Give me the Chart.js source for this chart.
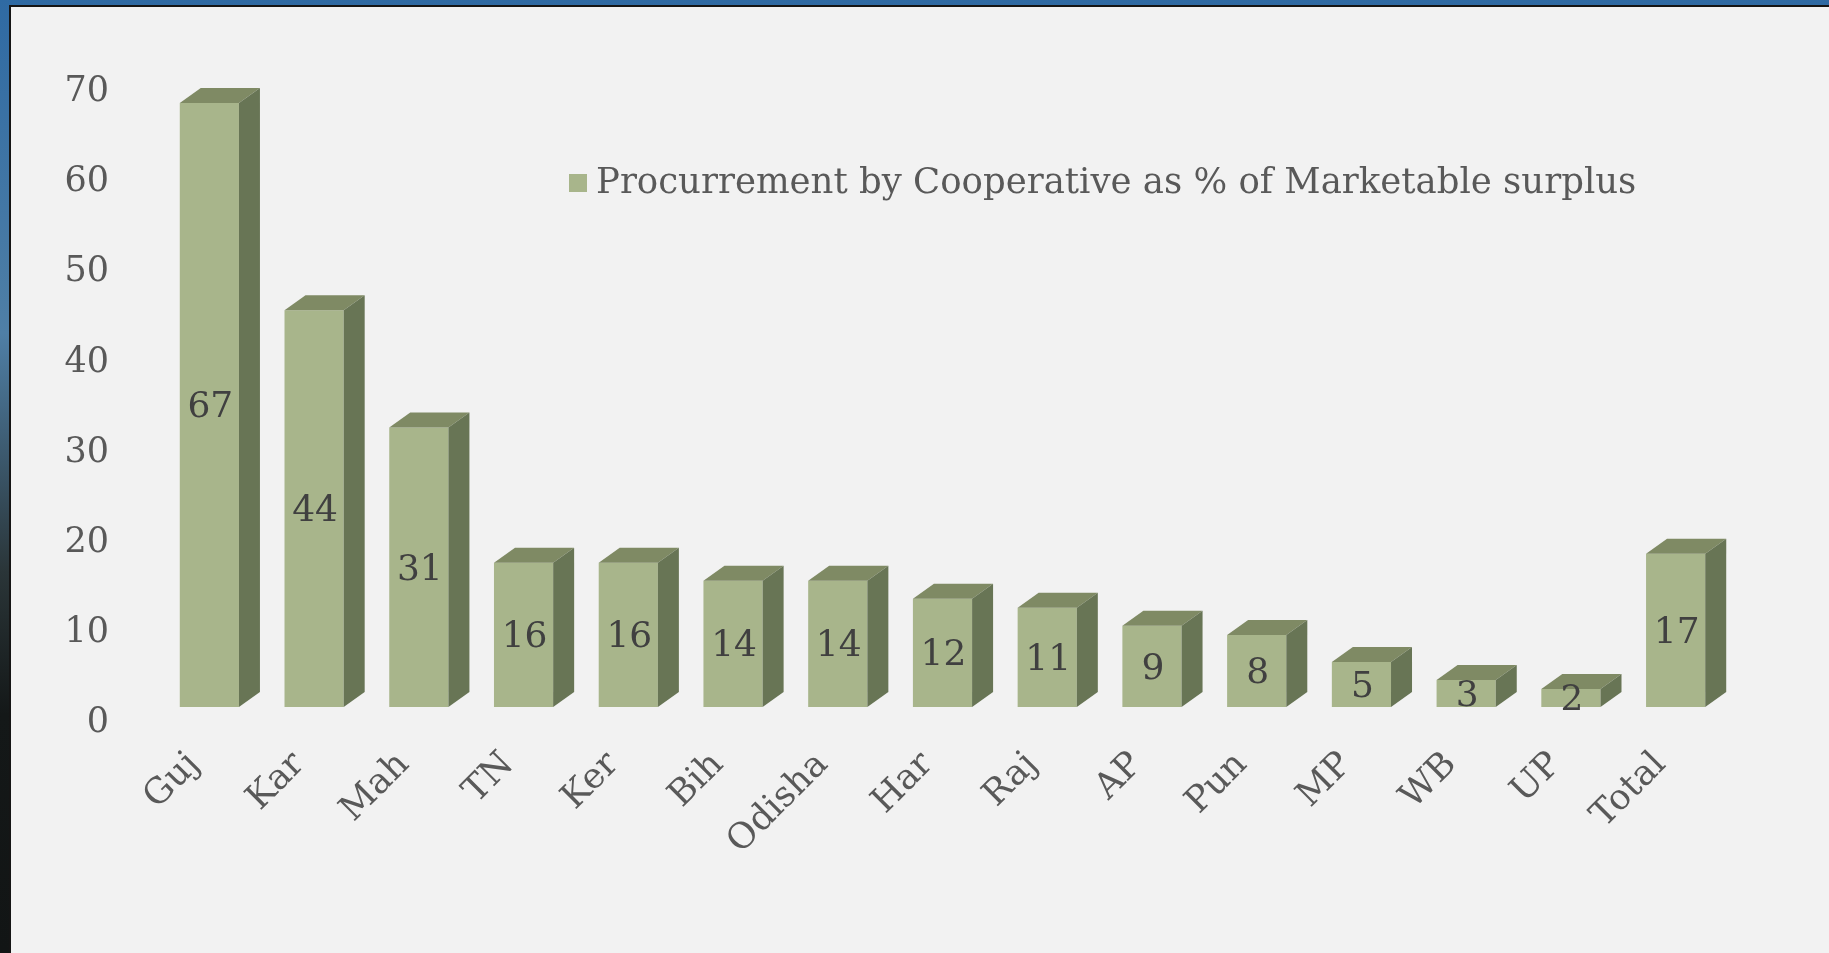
<!DOCTYPE html>
<html>
<head>
<meta charset="utf-8">
<script src="https://cdn.jsdelivr.net/npm/chart.js@4.4.1/dist/chart.umd.min.js"></script>
<style>
    html, body {
        margin: 0;
        padding: 0;
        width: 1829px;
        height: 953px;
        overflow: hidden;
        background: linear-gradient(to bottom, #2f6aa3 0%, #4f7fa6 35%, #2a3538 60%, #141818 75%, #121515 100%);
    }
    #panel {
        position: absolute;
        left: 9px;
        top: 5px;
        width: 1818px;
        height: 946px;
        background: #f2f2f2;
        border-left: 2px solid #151515;
        border-top: 2px solid #151515;
    }
    canvas { display: block; }
</style>
</head>
<body>
<div id="panel"><canvas id="chartCoop" width="1818" height="946"></canvas></div>
<script>
// Procurement by cooperatives

const states = ["Guj", "Kar", "Mah", "TN", "Ker", "Bih", "Odisha", "Har", "Raj", "AP", "Pun", "MP", "WB", "UP", "Total"];
const procurement = [67, 44, 31, 16, 16, 14, 14, 12, 11, 9, 8, 5, 3, 2, 17];
const seriesName = "Procurrement by Cooperative as % of Marketable surplus";
const yMax = 70;
const yStep = 10;

const frontColor = "#a8b58b";
const topColor = "#7f8a64";
const sideColor = "#687555";
const font = "'DejaVu Serif', serif";

// draws top + side faces so the bars look 3D, then the value labels
const bar3d = {
    id: "bar3d",
    afterDatasetsDraw: (chart) => {
        const ctx = chart.ctx;
        const meta = chart.getDatasetMeta(0);
        const dx = 21, dy = 15;
        meta.data.forEach((bar, i) => {
            const p = bar.getProps(["x", "y", "base", "width"], true);
            const x0 = p.x - p.width / 2;
            const x1 = p.x + p.width / 2;
            ctx.save();
            ctx.fillStyle = topColor;
            ctx.beginPath();
            ctx.moveTo(x0, p.y);
            ctx.lineTo(x0 + dx, p.y - dy);
            ctx.lineTo(x1 + dx, p.y - dy);
            ctx.lineTo(x1, p.y);
            ctx.closePath();
            ctx.fill();

            ctx.fillStyle = sideColor;
            ctx.beginPath();
            ctx.moveTo(x1, p.y);
            ctx.lineTo(x1 + dx, p.y - dy);
            ctx.lineTo(x1 + dx, p.base - dy);
            ctx.lineTo(x1, p.base);
            ctx.closePath();
            ctx.fill();

            ctx.fillStyle = "#404040";
            ctx.font = "36px " + font;
            ctx.textAlign = "center";
            ctx.textBaseline = "middle";
            ctx.fillText(String(procurement[i]), p.x + 1, (p.y + p.base) / 2 + 3);
            ctx.restore();
        });
    },
    afterDraw: (chart) => {
        // legend sits inside the plot
        const ctx = chart.ctx;
        const area = chart.chartArea;
        const bx = area.left + 412;
        const cy = area.top + 107;
        ctx.save();
        ctx.fillStyle = frontColor;
        ctx.fillRect(bx, cy - 9, 18, 18);
        ctx.fillStyle = "#595959";
        ctx.font = "35.5px " + font;
        ctx.textAlign = "left";
        ctx.textBaseline = "middle";
        ctx.fillText(chart.data.datasets[0].label, bx + 27, cy + 1);
        ctx.restore();
    }
};

const config = {
    type: "bar",
    data: {
        labels: states,
        datasets: [
            {
                label: seriesName,
                data: procurement,
                backgroundColor: frontColor,
                borderWidth: 0,
                categoryPercentage: 1,
                barPercentage: 0.565,
            },
        ],
    },
    options: {
        responsive: false,
        animation: false,
        layout: {
            padding: { left: 0, top: 67, right: 101, bottom: 0 },
        },
        plugins: {
            legend: { display: false },
            tooltip: { enabled: false },
        },
        scales: {
            x: {
                grid: { display: false, drawTicks: false },
                border: { display: false },
                ticks: {
                    color: "#595959",
                    font: { family: font, size: 35.5 },
                    minRotation: 45,
                    maxRotation: 45,
                    padding: 37,
                    labelOffset: -15,
                },
                afterFit: (scale) => { scale.height = 246; },
            },
            y: {
                min: 0,
                max: yMax,
                grid: { display: false, drawTicks: false },
                border: { display: false },
                ticks: {
                    stepSize: yStep,
                    color: "#595959",
                    font: { family: font, size: 35 },
                    padding: 48,
                    labelOffset: 16,
                },
                afterFit: (scale) => { scale.width = 146; },
            },
        },
    },
    plugins: [bar3d],
};

let ctx = document.getElementById("chartCoop");
let barChart = new Chart(ctx, config);
</script>
</body>
</html>
